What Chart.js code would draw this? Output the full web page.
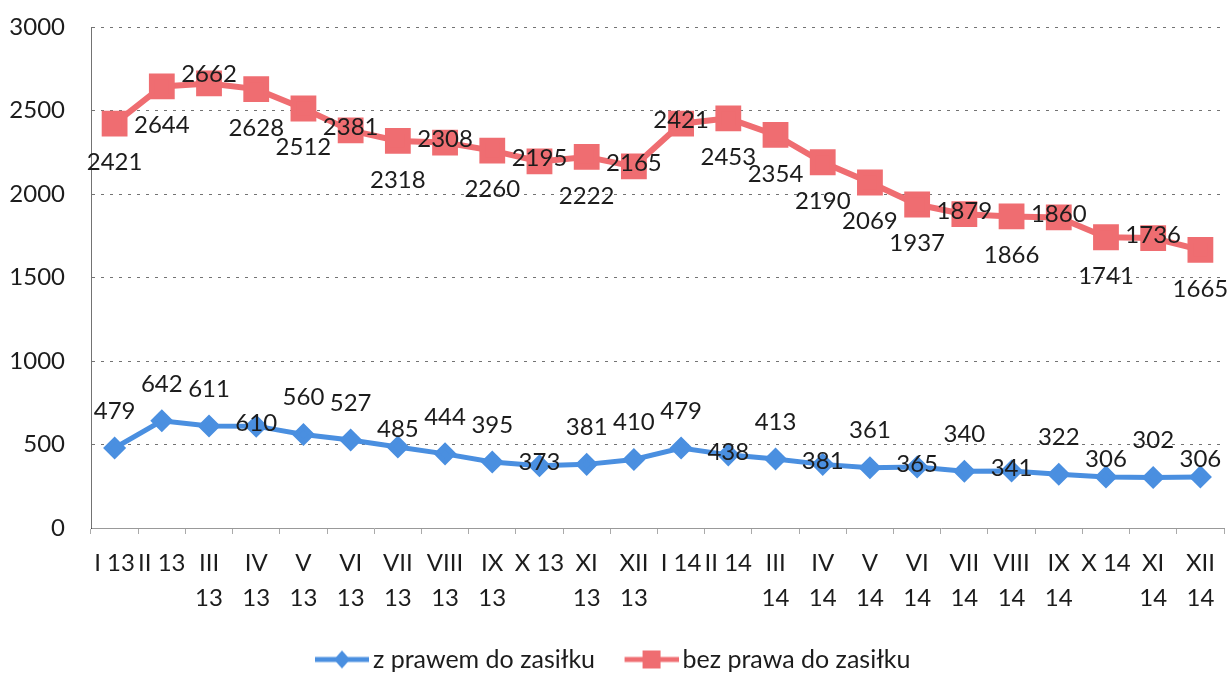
<!DOCTYPE html>
<html><head><meta charset="utf-8">
<script src="https://cdn.jsdelivr.net/npm/chart.js@4.4.1/dist/chart.umd.min.js"></script>
<style>html,body{margin:0;padding:0;background:#fff;} #wrap{width:1231px;height:674px;}</style>
</head><body><div id="wrap"><canvas id="c" width="1231" height="674"></canvas></div>
<script>
const categories = ['I 13','II 13','III 13','IV 13','V 13','VI 13','VII 13','VIII 13','IX 13','X 13','XI 13','XII 13',
                    'I 14','II 14','III 14','IV 14','V 14','VI 14','VII 14','VIII 14','IX 14','X 14','XI 14','XII 14'];
const withBenefit = [479, 642, 611, 610, 560, 527, 485, 444, 395, 373, 381, 410,
                     479, 438, 413, 381, 361, 365, 340, 341, 322, 306, 302, 306];
const withoutBenefit = [2421, 2644, 2662, 2628, 2512, 2381, 2318, 2308, 2260, 2195, 2222, 2165,
                        2421, 2453, 2354, 2190, 2069, 1937, 1879, 1866, 1860, 1741, 1736, 1665];
const seriesNames = ['z prawem do zasiłku', 'bez prawa do zasiłku'];
const yMin = 0, yMax = 3000, yStep = 500;
const singleLineLabels = ['I 13','II 13','X 13','I 14','II 14','X 14'];

// label placement codes (style only)
const bluePlacement = ['a','a','a','c','a','a','m','a','a','c','a','a','a','c','a','c','a','c','a','c','a','m','a','m'];
const redPlacement  = ['b','b','t','b','b','c','b','c','b','c','b','c','c','b','b','b','b','b','c','b','c','b','c','b'];
const OFFS = {a:-37, b:39, c:-3, m:-18, t:-9};

const BLUE = '#4a8fe0', RED = '#ef6d71';
const FONT = 'Lato';

function legendImg(color, style){
  const c = document.createElement('canvas'); c.width = 64; c.height = 22;
  const x = c.getContext('2d');
  x.strokeStyle = color; x.lineWidth = 5;
  x.beginPath(); x.moveTo(10,11); x.lineTo(64,11); x.stroke();
  x.fillStyle = color;
  if (style === 'diamond') { x.beginPath(); x.moveTo(37,2); x.lineTo(45,11); x.lineTo(37,20); x.lineTo(29,11); x.closePath(); x.fill(); }
  else { x.fillRect(28,2,18,18); }
  return c;
}
const legendImgs = [legendImg(BLUE,'diamond'), legendImg(RED,'rect')];

const labelPlugin = {
  id: 'pointLabels',
  afterDatasetsDraw(chart){
    const ctx = chart.ctx; ctx.save();
    ctx.font = '24px ' + FONT; ctx.fillStyle = '#1c1c1c'; ctx.textAlign = 'center'; ctx.textBaseline = 'middle';
    chart.data.datasets.forEach((ds, di) => {
      const meta = chart.getDatasetMeta(di);
      meta.data.forEach((pt, i) => {
        ctx.fillText(String(ds.data[i]), pt.x, pt.y + OFFS[ds.placement[i]]);
      });
    });
    ctx.restore();
  }
};

new Chart(document.getElementById('c'), {
  type: 'line',
  data: {
    labels: categories,
    datasets: [
      { label: seriesNames[0], data: withBenefit, placement: bluePlacement, borderColor: BLUE, backgroundColor: BLUE,
        borderWidth: 5, pointStyle: 'rectRot', pointRadius: 8, pointHoverRadius: 8, tension: 0 },
      { label: seriesNames[1], data: withoutBenefit, placement: redPlacement, borderColor: RED, backgroundColor: RED,
        borderWidth: 6, pointStyle: 'rect', pointRadius: 14, pointHoverRadius: 14, tension: 0 }
    ]
  },
  options: {
    responsive: false, animation: false,
    layout: { autoPadding: false, padding: { top: 27, right: 7, left: 0, bottom: -8 } },
    plugins: {
      tooltip: { enabled: false },
      legend: {
        position: 'bottom',
        labels: {
          usePointStyle: true, pointStyleWidth: 47, boxHeight: 22, padding: 28,
          font: { family: FONT, size: 25 }, color: '#1c1c1c',
          generateLabels(chart){
            const items = Chart.defaults.plugins.legend.labels.generateLabels(chart);
            items.forEach((it, i) => { it.pointStyle = legendImgs[i]; });
            return items;
          }
        }
      }
    },
    scales: {
      x: {
        offset: true,
        grid: { display: true, drawOnChartArea: false, drawTicks: true, tickLength: 6, color: '#aaa', offset: true },
        border: { display: true, color: '#999', dash: [3,5] },
        ticks: {
          autoSkip: false, maxRotation: 0, minRotation: 0, padding: 12,
          font: { family: FONT, size: 24, lineHeight: 1.45 }, color: '#1c1c1c',
          callback(v){ const l = categories[v]; return singleLineLabels.includes(l) ? l : l.split(' '); }
        },
        afterFit(s){ s.height = 91; s.paddingLeft = 0; s.paddingRight = 0; }
      },
      y: {
        min: yMin, max: yMax,
        grid: { color: 'rgba(0,0,0,0.55)', drawTicks: false, lineWidth: 1 },
        border: { display: true, color: 'rgba(0,0,0,0.55)', dash: [3,6] },
        ticks: { stepSize: yStep, padding: 26, font: { family: FONT, size: 24 }, color: '#1c1c1c',
                 callback(v){ return String(v); } },
        afterFit(s){ s.width = 91; s.paddingTop = 0; s.paddingBottom = 0; }
      }
    }
  },
  plugins: [labelPlugin, {
    id: 'dashGrid',
    beforeInit(chart){ chart.options.scales.y.grid.borderDash = [3,6]; }
  }]
});
</script></body></html>
